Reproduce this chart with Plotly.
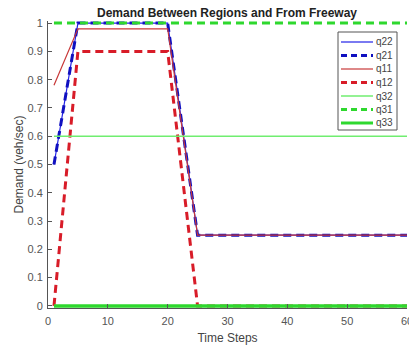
import plotly.graph_objects as go

W, H = 409, 347
ML, MR, MT, MB = 48, 2, 21, 39

t_q22 = [1, 5, 20, 25, 60]
q22 = [0.5, 1.0, 1.0, 0.25, 0.25]
t_q21 = [1, 5, 20, 25, 60]
q21 = [0.5, 1.0, 1.0, 0.25, 0.25]
t_q11 = [1, 5, 20, 25, 60]
q11 = [0.78, 0.98, 0.98, 0.25, 0.25]
t_q12 = [1, 5, 20, 25, 60]
q12 = [0.0, 0.9, 0.9, 0.0, 0.0]
t_q32 = [1, 60]
q32 = [0.6, 0.6]
t_q31 = [1, 60]
q31 = [1.0, 1.0]
t_q33 = [1, 60]
q33 = [0.0, 0.0]

series = [
    ("q22", t_q22, q22, "#2020e8", 1.2, "solid"),
    ("q21", t_q21, q21, "#1010c0", 3, "8px,5px"),
    ("q11", t_q11, q11, "#c83838", 1.2, "solid"),
    ("q12", t_q12, q12, "#d81c28", 3, "8px,5px"),
    ("q32", t_q32, q32, "#70ee70", 1.5, "solid"),
    ("q31", t_q31, q31, "#2ed82e", 3, "8px,5px"),
    ("q33", t_q33, q33, "#2ed82e", 3.5, "solid"),
]

x_ticks = [0, 10, 20, 30, 40, 50, 60]
y_ticks = [0, 0.1, 0.2, 0.3, 0.4, 0.5, 0.6, 0.7, 0.8, 0.9, 1]
y_tick_text = ["0", "0.1", "0.2", "0.3", "0.4", "0.5", "0.6", "0.7", "0.8", "0.9", "1"]

fig = go.Figure()
for name, t, v, c, w, d in series:
    fig.add_trace(go.Scatter(x=t, y=v, mode="lines", name=name,
                             line=dict(color=c, width=w, dash=d),
                             showlegend=False))

pw = W - ML - MR
ph = H - MT - MB
def px(xp):
    return (xp - ML) / pw
def py(yp):
    return 1 - (yp - MT) / ph

# manual legend box
fig.add_shape(type="rect", xref="paper", yref="paper",
              x0=px(338), x1=px(397), y0=py(130), y1=py(32),
              line=dict(color="#555555", width=1), fillcolor="white", layer="above")
for i, (name, t, v, c, w, d) in enumerate(series):
    yy = py(42 + 13.5 * i)
    fig.add_shape(type="line", xref="paper", yref="paper",
                  x0=px(341), x1=px(373), y0=yy, y1=yy,
                  line=dict(color=c, width=min(w, 3), dash="6px,4px" if d != "solid" else "solid"),
                  layer="above")
    fig.add_annotation(x=px(374), y=yy, xref="paper", yref="paper", text=name,
                       showarrow=False, xanchor="left", yanchor="middle",
                       font=dict(size=10, color="#444444", family="Liberation Sans"))

fig.update_layout(
    width=W, height=H,
    margin=dict(l=ML, r=MR, t=MT, b=MB),
    paper_bgcolor="white", plot_bgcolor="white",
    font=dict(family="Liberation Sans, Arial", color="#444444"),
    title=dict(text="<b>Demand Between Regions and From Freeway</b>",
               x=227 / W, xanchor="center", y=1 - 13 / H, yanchor="middle",
               font=dict(size=12, color="#222222")),
    xaxis=dict(range=[0, 60], tickvals=x_ticks, ticks="inside", ticklen=4,
               tickcolor="#555555", showline=True, linecolor="#555555", linewidth=1,
               showgrid=False, zeroline=False, tickfont=dict(size=11, color="#555555"),
               ticklabelstandoff=3, ticklabeloverflow="allow", automargin=False,
               title=dict(text="Time Steps", font=dict(size=12, color="#444444"), standoff=7)),
    yaxis=dict(range=[-0.0075, 1.0075], tickvals=y_ticks, ticktext=y_tick_text, ticks="inside", ticklen=4,
               tickcolor="#555555", showline=True, linecolor="#555555", linewidth=1,
               showgrid=False, zeroline=False, tickfont=dict(size=11, color="#555555"),
               ticklabelstandoff=2, ticklabeloverflow="allow", automargin=False,
               title=dict(text="Demand (veh/sec)", font=dict(size=12, color="#444444"), standoff=1)),
)

fig.write_html("out.html")
